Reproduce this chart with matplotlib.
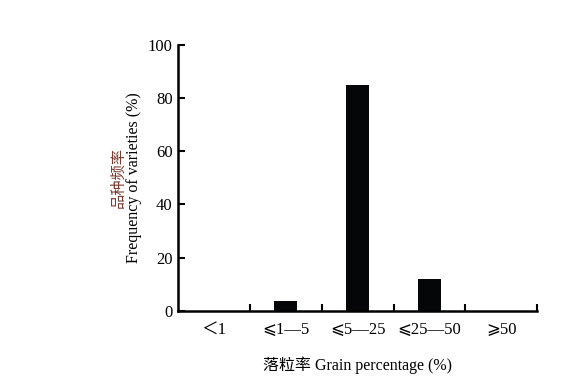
import matplotlib
matplotlib.use('Agg')
import matplotlib.pyplot as plt

plt.rcParams['font.family'] = ['Liberation Serif', 'Noto Sans CJK SC', 'DejaVu Sans']

categories = ['＜1', '⩽1—5', '⩽5—25', '⩽25—50', '⩾50']
freq = [0, 3.8, 85, 12, 0]
yticks = [0, 20, 40, 60, 80, 100]

fig = plt.figure(figsize=(5.82, 3.91), dpi=100)
ax = fig.add_axes([0.306, 0.205, 0.617, 0.680])

x = list(range(len(categories)))
ax.bar(x, freq, width=0.32, color='#050608')

ax.set_xlim(-0.5, len(categories) - 0.5)
ax.set_ylim(0, 100)
ax.set_yticks(yticks)
ax.set_xticks(x)
ax.set_xticklabels(categories, fontsize=12)
ax.set_xticks([i + 0.5 for i in x], minor=True)
ax.tick_params(axis='x', which='major', length=0, pad=8)
ax.tick_params(axis='x', which='minor', direction='in', length=5, width=1.5)
ax.tick_params(axis='y', direction='in', length=5, width=1.5, labelsize=12, pad=4)

for s in ['top', 'right']:
    ax.spines[s].set_visible(False)
for s in ['left', 'bottom']:
    ax.spines[s].set_linewidth(1.8)

ax.set_xlabel('落粒率 Grain percentage (%)', fontsize=11.5, labelpad=13)
fig.text(0.203, 0.545, '品种频率', rotation=90, ha='center', va='center',
         fontsize=11, color='#7a3a30', family=['Noto Sans CJK SC'])
fig.text(0.230, 0.545, 'Frequency of varieties (%)', rotation=90, ha='center', va='center',
         fontsize=11.5)

fig.savefig('out.png', dpi=100)
